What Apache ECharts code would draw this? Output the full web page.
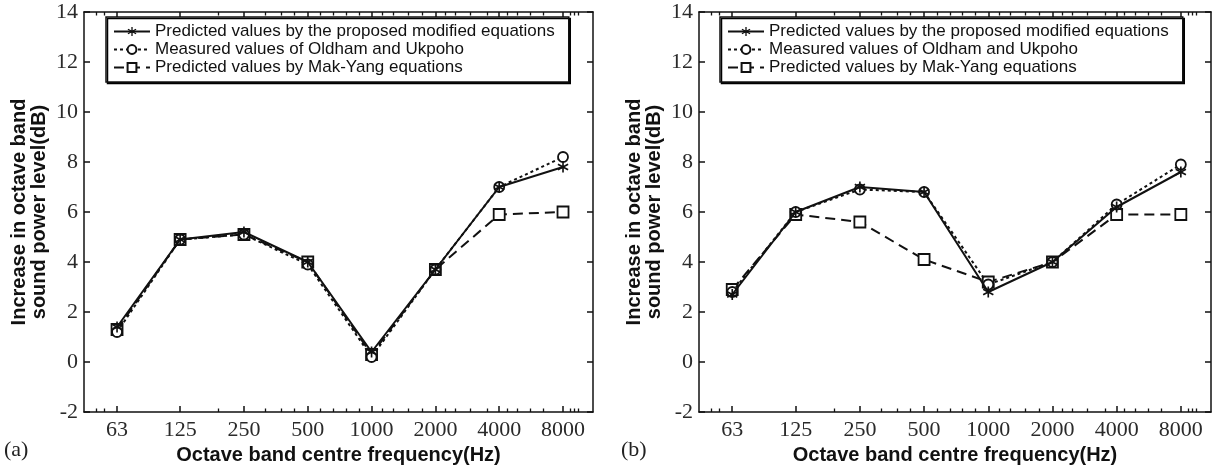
<!DOCTYPE html>
<html>
<head>
<meta charset="utf-8">
<script src="https://cdn.jsdelivr.net/npm/echarts@6/dist/echarts.min.js"></script>
<style>
html,body{margin:0;padding:0;background:#fff;}
#chart{width:1219px;height:466px;}
</style>
</head>
<body>
<div id="chart"></div>
<script>
// ---- data ----
const freqs = [63, 125, 250, 500, 1000, 2000, 4000, 8000];
const freqLabels = ['63', '125', '250', '500', '1000', '2000', '4000', '8000'];
const minorTickFreqs = [50, 55, 190, 315, 374, 430, 574, 660, 758, 871, 1127, 1270, 1495, 1740,
  2230, 2484, 2924, 3518, 4360, 4864, 5603, 6450, 8640, 9070, 9480];
const yTickLabels = ['-2', '0', '2', '4', '6', '8', '10', '12', '14'];

const seriesNames = [
  'Predicted values by the proposed modified equations',
  'Measured values of Oldham and Ukpoho',
  'Predicted values by Mak-Yang equations'
];

// panel (a)
const predA = [1.4, 4.9, 5.2, 4.0, 0.4, 3.7, 7.0, 7.8];
const measA = [1.2, 4.9, 5.1, 3.9, 0.2, 3.7, 7.0, 8.2];
const makA  = [1.3, 4.9, 5.1, 4.0, 0.3, 3.7, 5.9, 6.0];
// panel (b)
const predB = [2.7, 6.0, 7.0, 6.8, 2.8, 4.0, 6.2, 7.6];
const measB = [2.8, 6.0, 6.9, 6.8, 3.1, 4.0, 6.3, 7.9];
const makB  = [2.9, 5.9, 5.6, 4.1, 3.2, 4.0, 5.9, 5.9];

// ---- styles ----
const SERIF = '"Liberation Serif", "Times New Roman", serif';
const SANS = '"Liberation Sans", Arial, Helvetica, sans-serif';
const INK = '#111';
const X_MIN = 44, X_MAX = 11080;

const asterisk = 'path://M4.3 0L5.7 0L5.7 10L4.3 10Z' +
  'M1.02 1.89L9.68 6.89L8.98 8.11L0.32 3.11Z' +
  'M0.32 6.89L8.98 1.89L9.68 3.11L1.02 8.11Z';

function xAxes(gridIndex) {
  const base = {
    gridIndex: gridIndex, type: 'log', logBase: 2, min: X_MIN, max: X_MAX,
    splitLine: { show: false }, minorTick: { show: false }, minorSplitLine: { show: false }
  };
  return [
    Object.assign({}, base, {
      position: 'bottom',
      axisLine: { show: true, onZero: false, lineStyle: { color: INK, width: 1.5 } },
      axisTick: { show: true, inside: true, length: 6, customValues: freqs, lineStyle: { color: INK, width: 1.5 } },
      axisLabel: {
        show: true, customValues: freqs, margin: 7,
        formatter: function (v) { return freqLabels[freqs.indexOf(Math.round(v))] || String(Math.round(v)); },
        fontFamily: SERIF, fontSize: 22, color: '#2a2a2a'
      },
      name: 'Octave band centre frequency(Hz)', nameLocation: 'middle', nameGap: 27,
      nameTextStyle: { fontFamily: SANS, fontSize: 20, fontWeight: 'bold', color: INK }
    }),
    Object.assign({}, base, {
      position: 'bottom',
      axisLine: { show: false, onZero: false },
      axisTick: { show: true, inside: true, length: 3.5, customValues: minorTickFreqs, lineStyle: { color: INK, width: 1.3 } },
      axisLabel: { show: false }
    }),
    Object.assign({}, base, {
      position: 'top',
      axisLine: { show: true, onZero: false, lineStyle: { color: INK, width: 1.5 } },
      axisTick: { show: true, inside: true, length: 6, customValues: freqs, lineStyle: { color: INK, width: 1.5 } },
      axisLabel: { show: false }
    }),
    Object.assign({}, base, {
      position: 'top',
      axisLine: { show: false, onZero: false },
      axisTick: { show: true, inside: true, length: 3.5, customValues: minorTickFreqs, lineStyle: { color: INK, width: 1.3 } },
      axisLabel: { show: false }
    })
  ];
}

function yAxes(gridIndex) {
  const base = { gridIndex: gridIndex, type: 'value', min: -2, max: 14, interval: 2, splitLine: { show: false } };
  return [
    Object.assign({}, base, {
      position: 'left',
      axisLine: { show: true, onZero: false, lineStyle: { color: INK, width: 1.5 } },
      axisTick: { show: true, inside: true, length: 6, lineStyle: { color: INK, width: 1.5 } },
      axisLabel: {
        margin: 6, fontFamily: SERIF, fontSize: 22, color: '#2a2a2a',
        formatter: function (v) { return yTickLabels[yTickLabels.indexOf(String(v))] || String(v); }
      },
      name: 'Increase in octave band\nsound power level(dB)', nameLocation: 'middle', nameRotate: 90, nameGap: 35,
      nameTextStyle: { fontFamily: SANS, fontSize: 20, fontWeight: 'bold', color: INK, lineHeight: 20 }
    }),
    Object.assign({}, base, {
      position: 'right',
      axisLine: { show: true, onZero: false, lineStyle: { color: INK, width: 1.5 } },
      axisTick: { show: true, inside: true, length: 6, lineStyle: { color: INK, width: 1.5 } },
      axisLabel: { show: false }
    })
  ];
}

function pairs(vals) { return freqs.map(function (f, i) { return [f, vals[i]]; }); }

function panelSeries(xIdx, yIdx, pred, meas, mak) {
  return [
    {
      name: seriesNames[0], type: 'line', xAxisIndex: xIdx, yAxisIndex: yIdx, data: pairs(pred),
      symbol: asterisk, symbolSize: 11, z: 4,
      lineStyle: { color: INK, width: 2, type: 'solid' },
      itemStyle: { color: INK, borderWidth: 0 }
    },
    {
      name: seriesNames[1], type: 'line', xAxisIndex: xIdx, yAxisIndex: yIdx, data: pairs(meas),
      symbol: 'circle', symbolSize: 10, z: 3,
      lineStyle: { color: INK, width: 2, type: [3, 3] },
      itemStyle: { color: '#fff', borderColor: INK, borderWidth: 1.8 }
    },
    {
      name: seriesNames[2], type: 'line', xAxisIndex: xIdx, yAxisIndex: yIdx, data: pairs(mak),
      symbol: 'rect', symbolSize: 11, z: 2,
      lineStyle: { color: INK, width: 2, type: [10, 6] },
      itemStyle: { color: '#fff', borderColor: INK, borderWidth: 1.8 }
    }
  ];
}

function legend(left) {
  return {
    data: seriesNames, orient: 'vertical', left: left, top: 17,
    padding: [6, 14, 6, 7], itemGap: 1, itemWidth: 36, itemHeight: 11,
    backgroundColor: '#fff', borderColor: INK, borderWidth: 1.5,
    shadowColor: '#000', shadowOffsetX: 1.5, shadowOffsetY: 1.5, shadowBlur: 0,
    textStyle: { fontFamily: SANS, fontSize: 17, color: INK, lineHeight: 17 },
    selectedMode: false
  };
}

const chart = echarts.init(document.getElementById('chart'), null, { renderer: 'canvas' });
chart.setOption({
  animation: false,
  backgroundColor: '#fff',
  grid: [
    { left: 84, top: 12, width: 509, height: 400, show: false, outerBoundsMode: 'none', containLabel: false },
    { left: 699, top: 12, width: 512, height: 400, show: false, outerBoundsMode: 'none', containLabel: false }
  ],
  xAxis: xAxes(0).concat(xAxes(1)),
  yAxis: yAxes(0).concat(yAxes(1)),
  legend: [legend(106), legend(720)],
  series: panelSeries(0, 0, predA, measA, makA).concat(panelSeries(4, 2, predB, measB, makB)),
  graphic: [
    { type: 'text', left: 4, top: 439, style: { text: '(a)', font: '22px ' + SERIF, fill: '#222' } },
    { type: 'text', left: 621, top: 439, style: { text: '(b)', font: '22px ' + SERIF, fill: '#222' } }
  ]
});
</script>
</body>
</html>
